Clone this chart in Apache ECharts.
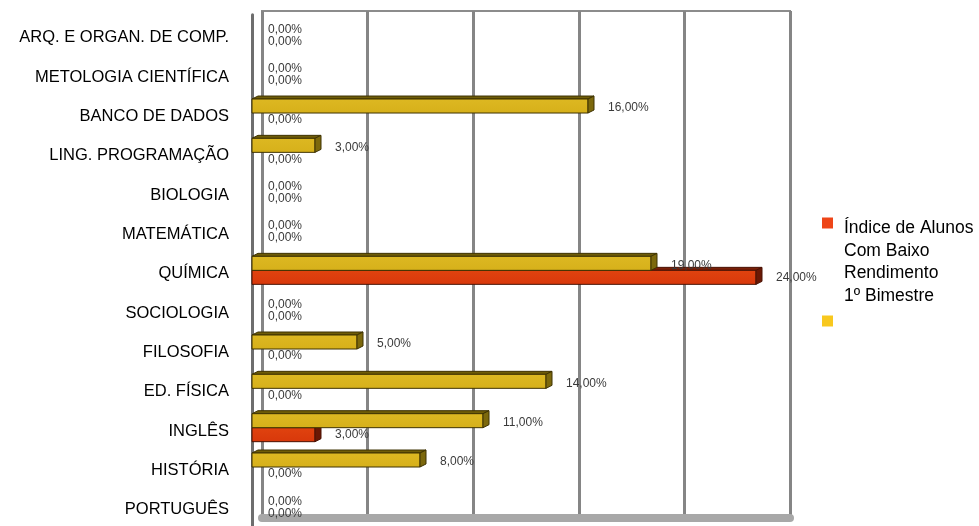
<!DOCTYPE html>
<html>
<head>
<meta charset="utf-8">
<script src="https://cdn.jsdelivr.net/npm/echarts@6/dist/echarts.min.js"></script>
<style>
  html, body { margin: 0; padding: 0; background: #ffffff; }
  #chart { width: 979px; height: 526px; }
</style>
</head>
<body>
<div id="chart"></div>
<script>
// Subjects, top to bottom
const subjects = [
  'ARQ. E ORGAN. DE COMP.', 'METOLOGIA CIENTÍFICA', 'BANCO DE DADOS',
  'LING. PROGRAMAÇÃO', 'BIOLOGIA', 'MATEMÁTICA', 'QUÍMICA', 'SOCIOLOGIA',
  'FILOSOFIA', 'ED. FÍSICA', 'INGLÊS', 'HISTÓRIA', 'PORTUGUÊS'
];
// Percentages per subject (same order as subjects)
const lowPerformance = [0, 0, 0, 0, 0, 0, 24, 0, 0, 0, 3, 0, 0];
const secondSeries   = [0, 0, 16, 3, 0, 0, 19, 0, 5, 14, 11, 8, 0];
// Value axis range and step
const axisMin = 0;
const axisMax = 25;
const axisStep = 5;

const lowName = 'Índice de Alunos\nCom Baixo\nRendimento\n1º Bimestre';
const secondName = 'Série 2';

const fmt = v => v.toFixed(2).replace('.', ',') + '%';

// Bar with a thin top face and a shaded end face, giving a 3-D look
function bar3d(pal, upper) {
  return function (params, api) {
    const v = api.value(0);
    const idx = api.value(1);
    const c0 = api.coord([0, idx]);
    const c1 = api.coord([v, idx]);
    const yc = c0[1];
    const h = 14, dx = 6, dy = 3;
    const yTop = upper ? yc - h : yc;
    const yBot = yTop + h;
    const x0 = c0[0], x1 = c1[0];
    const children = [];
    if (v > 0) {
      children.push({
        type: 'polygon',
        shape: { points: [[x0, yTop], [x1, yTop], [x1 + dx, yTop - dy], [x0 + dx, yTop - dy]] },
        style: { fill: pal.top, stroke: pal.edge, lineWidth: 1 }
      });
      children.push({
        type: 'rect',
        shape: { x: x0, y: yTop, width: x1 - x0, height: h },
        style: {
          fill: new echarts.graphic.LinearGradient(0, 0, 0, 1, [
            { offset: 0, color: pal.frontLight },
            { offset: 1, color: pal.front }
          ]),
          stroke: pal.edge, lineWidth: 1
        }
      });
      children.push({
        type: 'polygon',
        shape: { points: [[x1, yTop], [x1 + dx, yTop - dy], [x1 + dx, yBot - dy], [x1, yBot]] },
        style: { fill: pal.side, stroke: pal.edge, lineWidth: 1 }
      });
    }
    children.push({
      type: 'text',
      style: {
        text: fmt(v),
        x: x1 + (v > 0 ? 20 : 16),
        y: (yTop + yBot) / 2 + (upper ? 2 : 0),
        align: 'left',
        verticalAlign: 'middle',
        fill: '#3a3a3a',
        font: '12px "Liberation Sans", Arial, sans-serif'
      }
    });
    return { type: 'group', children: children };
  };
}

const redPalette = { front: '#d8380b', frontLight: '#e0430f', top: '#7a2008', side: '#6a1804', edge: '#4a1204' };
const yellowPalette = { front: '#d6b01a', frontLight: '#ddb822', top: '#6e5c08', side: '#7c680c', edge: '#3f3302' };

const chart = echarts.init(document.getElementById('chart'), null, { renderer: 'canvas' });

chart.setOption({
  animation: false,
  backgroundColor: '#ffffff',
  legend: [
    {
      data: [lowName],
      orient: 'vertical',
      left: 822,
      top: 177,
      padding: 0,
      icon: 'rect',
      itemWidth: 11,
      itemHeight: 11,
      selectedMode: false,
      // a spacer line on top keeps the icon level with the first text line
      formatter: name => '{sp| }\n' + name.split('\n').map(l => '{t|' + l + '}').join('\n'),
      textStyle: {
        padding: [0, 0, 0, 6],
        rich: {
          sp: { fontSize: 2, lineHeight: 78.5 },
          t: { fontFamily: 'Liberation Sans', fontSize: 17.5, color: '#000', lineHeight: 22.5 }
        }
      }
    },
    {
      data: [secondName],
      orient: 'vertical',
      left: 822,
      top: 315.5,
      padding: 0,
      icon: 'rect',
      itemWidth: 11,
      itemHeight: 11,
      selectedMode: false,
      formatter: () => '',
      textStyle: { fontSize: 10, lineHeight: 11 }
    }
  ],
  grid: [
    // bars
    { left: 252, width: 525, top: 14.7, height: 511.3, containLabel: false },
    // back wall
    { left: 262, width: 528, top: 11, height: 507, show: true, borderColor: '#8c8c8c', borderWidth: 2, backgroundColor: '#ffffff' }
  ],
  xAxis: [
    {
      gridIndex: 0, type: 'value', min: axisMin, max: axisMax, interval: axisStep,
      axisLine: { show: false }, axisTick: { show: false }, axisLabel: { show: false },
      splitLine: { show: false }
    },
    {
      gridIndex: 1, type: 'value', min: axisMin, max: axisMax, interval: axisStep,
      offset: 4,
      axisLine: { show: true, lineStyle: { color: '#a8a8a8', width: 8 } },
      axisTick: { show: false }, axisLabel: { show: false },
      splitLine: { show: true, lineStyle: { color: '#858585', width: 3 } }
    }
  ],
  yAxis: [
    {
      gridIndex: 0, type: 'category', data: subjects, inverse: true,
      offset: 5,
      axisLine: { show: true, lineStyle: { color: '#6e6e6e', width: 3 } },
      axisTick: { show: false },
      axisLabel: {
        margin: 18,
        // small spacer line drops the subject name a few pixels
        formatter: v => '{sp| }\n{v|' + v + '}',
        rich: {
          sp: { fontSize: 2, lineHeight: 7 },
          v: { color: '#000', fontFamily: 'Liberation Sans', fontSize: 16.5, lineHeight: 20 }
        }
      },
      splitLine: { show: false }
    },
    {
      gridIndex: 1, type: 'value', show: false
    }
  ],
  series: [
    {
      name: lowName,
      type: 'custom',
      xAxisIndex: 0, yAxisIndex: 0,
      itemStyle: { color: '#ee4518' },
      encode: { x: 0, y: 1 },
      clip: false,
      renderItem: bar3d(redPalette, false),
      data: lowPerformance.map((v, i) => [v, i])
    },
    {
      name: secondName,
      type: 'custom',
      xAxisIndex: 0, yAxisIndex: 0,
      itemStyle: { color: '#f8c81e' },
      encode: { x: 0, y: 1 },
      clip: false,
      renderItem: bar3d(yellowPalette, true),
      data: secondSeries.map((v, i) => [v, i])
    }
  ]
});
</script>
</body>
</html>
